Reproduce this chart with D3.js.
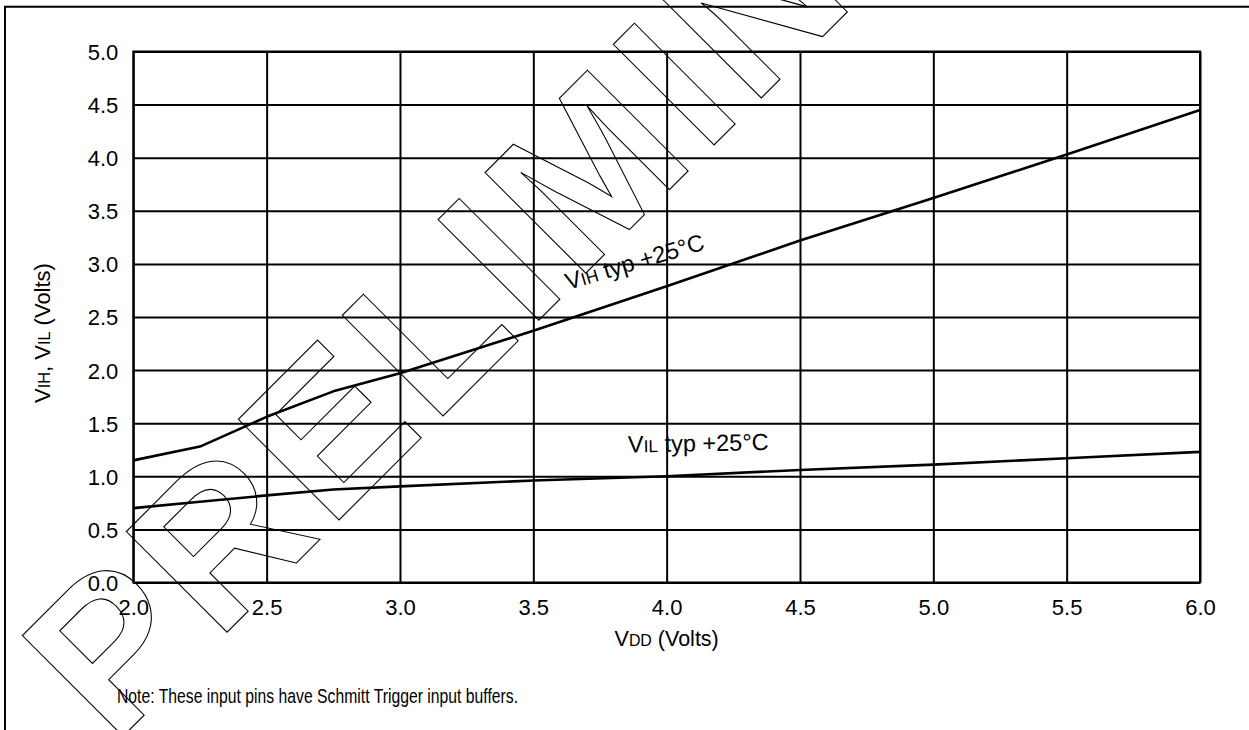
<!DOCTYPE html>
<html>
<head>
<meta charset="utf-8">
<script src="https://cdn.jsdelivr.net/npm/d3@7"></script>
<style>
  html, body { margin: 0; padding: 0; background: #fff; }
  svg { display: block; }
  text { font-family: "Liberation Sans", Arial, Helvetica, sans-serif; fill: #000; }
</style>
</head>
<body>
<svg id="chart" width="1249" height="730"></svg>
<script>
// ---- data ----
const vddValues = [2.0, 2.25, 2.5, 2.75, 3.0, 3.5, 4.0, 4.5, 5.0, 5.5, 6.0];
const vihTyp    = [1.15, 1.28, 1.56, 1.80, 1.97, 2.37, 2.79, 3.22, 3.62, 4.03, 4.45];
const vilTyp    = [0.70, 0.76, 0.82, 0.875, 0.905, 0.96, 1.00, 1.06, 1.11, 1.17, 1.23];
const xTicks = [2.0, 2.5, 3.0, 3.5, 4.0, 4.5, 5.0, 5.5, 6.0];
const yTicks = [0.0, 0.5, 1.0, 1.5, 2.0, 2.5, 3.0, 3.5, 4.0, 4.5, 5.0];
const xTickLabels = ["2.0", "2.5", "3.0", "3.5", "4.0", "4.5", "5.0", "5.5", "6.0"];
const yTickLabels = ["0.0", "0.5", "1.0", "1.5", "2.0", "2.5", "3.0", "3.5", "4.0", "4.5", "5.0"];
const noteText = "Note: These input pins have Schmitt Trigger input buffers.";
const watermarkText = "PRELIMINARY";

(function () {
const svg = d3.select("#chart");
const pLeft = 133.3, pRight = 1200, pTop = 51.5, pBottom = 582.5;

const x = d3.scaleLinear().domain([2, 6]).range([pLeft, pRight]);
const y = d3.scaleLinear().domain([0, 5]).range([pBottom, pTop]);

// outer frame (continues off the page to the right and bottom)
svg.append("path")
  .attr("d", "M1260,6.7 L5,6.7 L5,740")
  .attr("fill", "none").attr("stroke", "#000").attr("stroke-width", 2);

// grid via axes
const yAxis = d3.axisLeft(y).tickValues(yTicks)
  .tickFormat((d, i) => yTickLabels[i])
  .tickSize(-(pRight - pLeft)).tickPadding(15);
const gy = svg.append("g").attr("transform", `translate(${pLeft},0)`).call(yAxis);
gy.select(".domain").remove();
gy.selectAll("line").attr("stroke", "#000").attr("stroke-width", 2);
gy.selectAll("text").attr("font-size", 22).attr("font-family", "Liberation Sans, Arial, sans-serif").attr("dy", "0.36em");

const xAxis = d3.axisBottom(x).tickValues(xTicks)
  .tickFormat((d, i) => xTickLabels[i])
  .tickSize(-(pBottom - pTop)).tickPadding(17);
const gx = svg.append("g").attr("transform", `translate(0,${pBottom})`).call(xAxis);
gx.select(".domain").remove();
gx.selectAll("line").attr("stroke", "#000").attr("stroke-width", 2);
gx.selectAll("text").attr("font-size", 22).attr("font-family", "Liberation Sans, Arial, sans-serif");

// plot border
svg.append("rect").attr("x", pLeft).attr("y", pTop)
  .attr("width", pRight - pLeft).attr("height", pBottom - pTop)
  .attr("fill", "none").attr("stroke", "#000").attr("stroke-width", 2);

// curves
const line = d3.line().x((d, i) => x(vddValues[i])).y(d => y(d));
svg.append("path").datum(vihTyp).attr("d", line)
  .attr("fill", "none").attr("stroke", "#000").attr("stroke-width", 2.6).attr("stroke-linejoin", "round");
svg.append("path").datum(vilTyp).attr("d", line)
  .attr("fill", "none").attr("stroke", "#000").attr("stroke-width", 2.6).attr("stroke-linejoin", "round");

// curve labels
function subLabel(g, main, sub, rest, size) {
  const t = g.append("text").attr("font-size", size);
  t.append("tspan").text(main);
  t.append("tspan").attr("font-size", size * 0.74).text(sub);
  t.append("tspan").text(rest);
  return t;
}
const vihLab = svg.append("g").attr("transform", "translate(568,290) rotate(-16.5)");
subLabel(vihLab, "V", "IH", " typ +25°C", 23.5);
const vilLab = svg.append("g").attr("transform", "translate(628,452.5) rotate(-1)");
subLabel(vilLab, "V", "IL", " typ +25°C", 23.5);

// axis titles
const xt = svg.append("text").attr("x", (pLeft + pRight) / 2).attr("y", 646)
  .attr("text-anchor", "middle").attr("font-size", 21.5);
xt.append("tspan").text("V");
xt.append("tspan").attr("font-size", 21.5 * 0.74).text("DD");
xt.append("tspan").text(" (Volts)");

const yt = svg.append("text").attr("transform", "translate(50,333) rotate(-90)")
  .attr("text-anchor", "middle").attr("font-size", 22);
yt.append("tspan").text("V");
yt.append("tspan").attr("font-size", 22 * 0.74).text("IH");
yt.append("tspan").text(", V");
yt.append("tspan").attr("font-size", 22 * 0.74).text("IL");
yt.append("tspan").text(" (Volts)");

// note
svg.append("text").attr("x", 117).attr("y", 703).attr("font-size", 20.5)
  .attr("textLength", 401).attr("lengthAdjust", "spacingAndGlyphs")
  .text(noteText);

// PRELIMINARY outlined watermark
svg.append("text")
  .attr("transform", "translate(113.2,745.9) rotate(-45)")
  .attr("font-size", 207).attr("font-weight", "bold")
  .attr("letter-spacing", 9)
  .style("fill", "none").attr("stroke", "#000").attr("stroke-width", 1.1)
  .text(watermarkText);
})();
</script>
</body>
</html>
